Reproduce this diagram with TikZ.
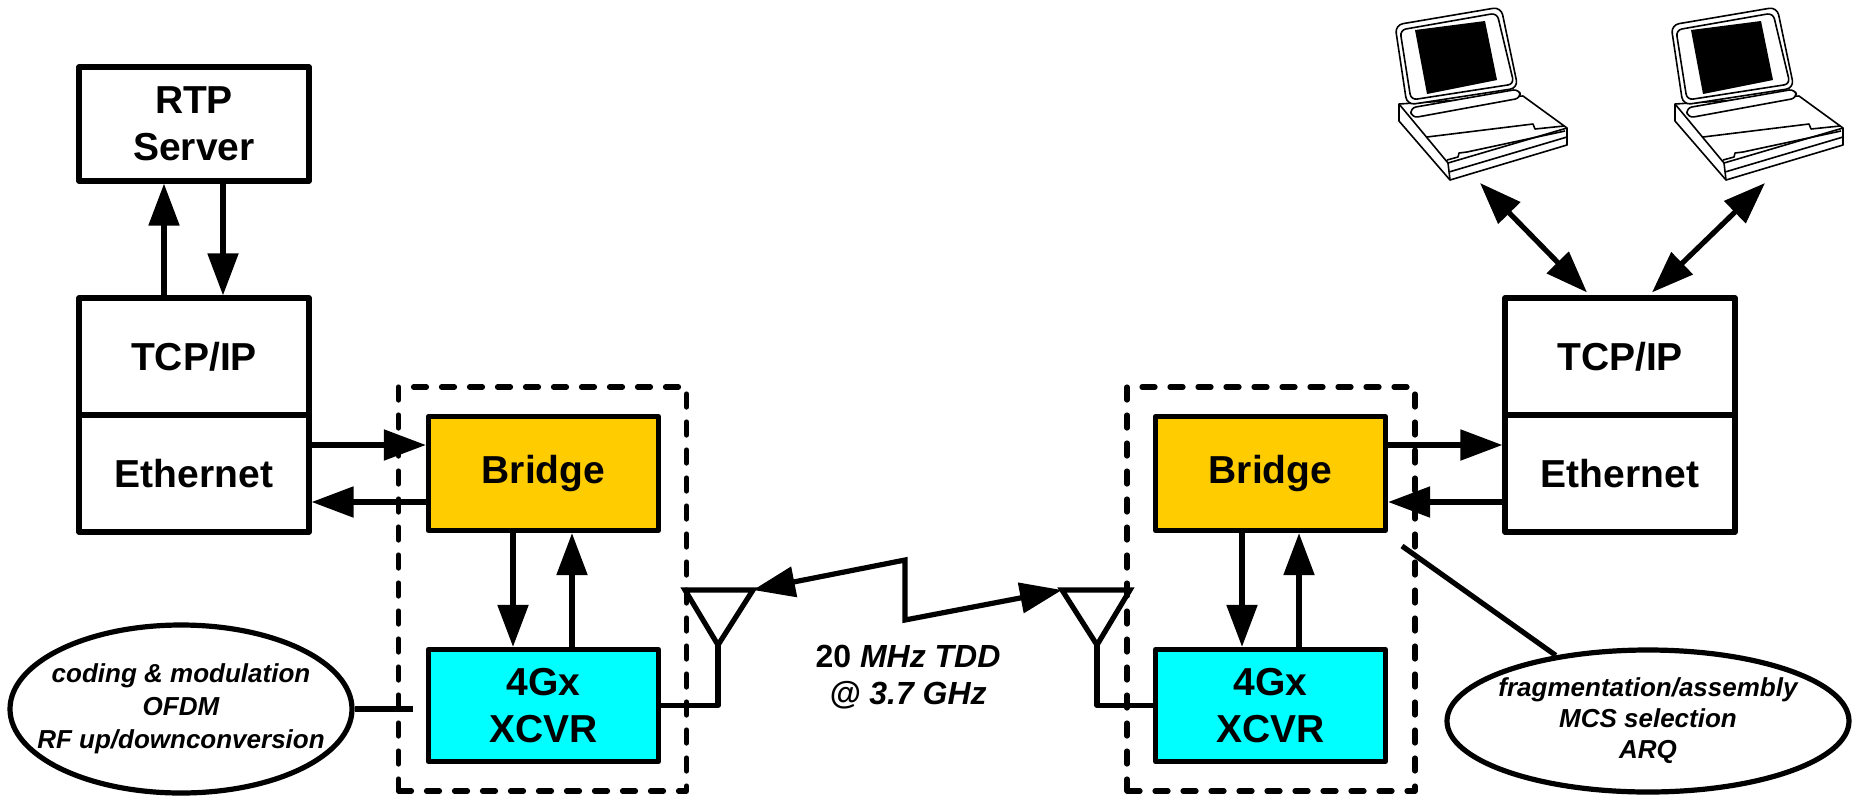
\documentclass[tikz,border=0pt]{standalone}
\usepackage{fontspec}
\setmainfont{Liberation Sans}
\usetikzlibrary{arrows.meta,shapes.geometric,calc}
\definecolor{bridgefill}{HTML}{FFCC00}
\definecolor{xcvrfill}{HTML}{00FFFF}

\tikzset{
  lap/.style={line width=0.8pt},
  laptop/.pic={
    % base
    \draw[lap, fill=white] (9,104) -- (9,121) -- (60,180) -- (177,145) -- (177,128) -- (133,96) -- cycle;
    \draw[lap] (9,104) -- (58,163) -- (177,128);
    \draw[lap] (58,163) -- (60,180);
    \draw[lap] (59,172) -- (177,137);
    % palm rest
    \draw[lap] (37,137) -- (143,124) -- (145,129) -- (174,126);
    \draw[lap] (57,160) -- (68,157) -- (69,153) -- (77,152) -- (175,131);
    % hinge
    \draw[lap, fill=white, rounded corners=3] (20,108) -- (129,89) -- (131,98) -- (22,118) -- cycle;
    % lid and screen
    \draw[lap, fill=white, rounded corners=4] (5,25) -- (111,7) -- (128,88) -- (17,105) -- cycle;
    \draw[lap, rounded corners=3] (10,30) -- (107,13) -- (124,84) -- (21,100) -- cycle;
    \fill (25,30) -- (95,21) -- (107,80) -- (37,94) -- cycle;
  }
}

\begin{document}
\begin{tikzpicture}[x=0.5pt, y=-0.5pt, line width=2.6pt, line join=round,
  >={Triangle[length=21pt, width=15pt]},
  blk/.style={draw, fill=white, inner sep=0pt, align=center, minimum width=115pt,
    font=\fontsize{19.5}{23.5}\selectfont\bfseries},
  grp/.style={draw, dash pattern=on 6.5pt off 7.5pt, line cap=round,
    minimum width=144pt, minimum height=202pt, inner sep=0pt},
  note/.style={draw, ellipse, inner sep=0pt},
  notetext/.style={align=center, inner sep=0pt, font=\fontsize{13}{16.5}\selectfont\bfseries\itshape},
  flow/.style={->},
  dflow/.style={<->}
]
\useasboundingbox (0,0) rectangle (1854,799);

% laptops
\pic at (1390,0) {laptop};
\pic at (1666,0) {laptop};
\coordinate (lapA) at (1480,183);
\coordinate (lapB) at (1765,183);

% server side stack
\node[blk, minimum height=57pt] (rtp) at (194,124) {RTP\\Server};
\node[blk, minimum height=58.5pt] (tcpL) at (194,356.5) {TCP/IP};
\node[blk, minimum height=58.5pt] (ethL) at (194,473.5) {Ethernet};

% client side stack
\node[blk, minimum height=58.5pt] (tcpR) at (1620,356.5) {TCP/IP};
\node[blk, minimum height=58.5pt] (ethR) at (1620,473.5) {Ethernet};

% radio units
\node[grp] (grpL) at (542.5,589) {};
\node[grp] (grpR) at (1271,589) {};
\node[blk, fill=bridgefill, minimum height=57pt] (brL) at (543.5,473.5) {Bridge};
\node[blk, fill=xcvrfill, minimum height=56pt] (xcL) at (543.5,705.5) {4Gx\\XCVR};
\node[blk, fill=bridgefill, minimum height=57pt] (brR) at (1270.5,473.5) {Bridge};
\node[blk, fill=xcvrfill, minimum height=56pt] (xcR) at (1270.5,705.5) {4Gx\\XCVR};

% server stack arrows
\draw[flow] ($(tcpL.north)+(-30,0)$) -- ($(rtp.south)+(-30,0)$);
\draw[flow] ($(rtp.south)+(29,0)$) -- ($(tcpL.north)+(29,0)$);
\draw[flow] ($(ethL.east)+(0,-28.5)$) -- ($(brL.west)+(0,-28.5)$);
\draw[flow] ($(brL.west)+(0,28.5)$) -- ($(ethL.east)+(0,28.5)$);
\draw[flow] ($(brL.south)+(-30.5,0)$) -- ($(xcL.north)+(-30.5,0)$);
\draw[flow] ($(xcL.north)+(28.5,0)$) -- ($(brL.south)+(28.5,0)$);

% client stack arrows
\draw[flow] ($(brR.east)+(0,-28.5)$) -- ($(ethR.west)+(0,-28.5)$);
\draw[flow] ($(ethR.west)+(0,28.5)$) -- ($(brR.east)+(0,28.5)$);
\draw[flow] ($(brR.south)+(-28.5,0)$) -- ($(xcR.north)+(-28.5,0)$);
\draw[flow] ($(xcR.north)+(28.5,0)$) -- ($(brR.south)+(28.5,0)$);
\draw[dflow] (lapA) -- ($(tcpR.north)+(-33,-3)$);
\draw[dflow] (lapB) -- ($(tcpR.north)+(32,-3)$);

% antennas
\coordinate (antL) at (718,645);
\draw[line join=miter] (antL) -- ++(-33,-55) coordinate (antLtl) -- ++(68,0) coordinate (antLtr) -- cycle;
\draw (xcL.east) -| (antL);
\coordinate (antR) at (1097,645);
\draw[line join=miter] (antR) -- ++(-35,-55) coordinate (antRtl) -- ++(68,0) coordinate (antRtr) -- cycle;
\draw (xcR.west) -| (antR);

% radio link
\coordinate (zigA) at (905,560);
\coordinate (zigB) at (905,620);
\draw[dflow, line join=miter] (antLtr) -- (zigA) -- (zigB) -- (antRtl);
\node[align=center, inner sep=0pt, font=\fontsize{16}{18.5}\selectfont\bfseries] (linklbl) at (908,677)
  {20 \textit{MHz TDD}\\\textit{@ 3.7 GHz}};

% function notes
\node[note, minimum width=171pt, minimum height=84pt] (ellL) at (181,709) {};
\node[notetext] (ellLtxt) at (ellL.center) {coding \& modulation\\OFDM\\RF up/downconversion};
\coordinate (ellLend) at (413,706);
\draw (ellL.east) -- (ellL.east -| ellLend);

\node[note, minimum width=201pt, minimum height=71pt] (ellR) at (1648,721) {};
\node[notetext, font=\fontsize{13}{15.5}\selectfont\bfseries\itshape] (ellRtxt) at (ellR.center) {fragmentation/assembly\\MCS selection\\ARQ};
\coordinate (fragpt) at (1402,546);
\draw (fragpt) -- (ellR);
\end{tikzpicture}
\end{document}
